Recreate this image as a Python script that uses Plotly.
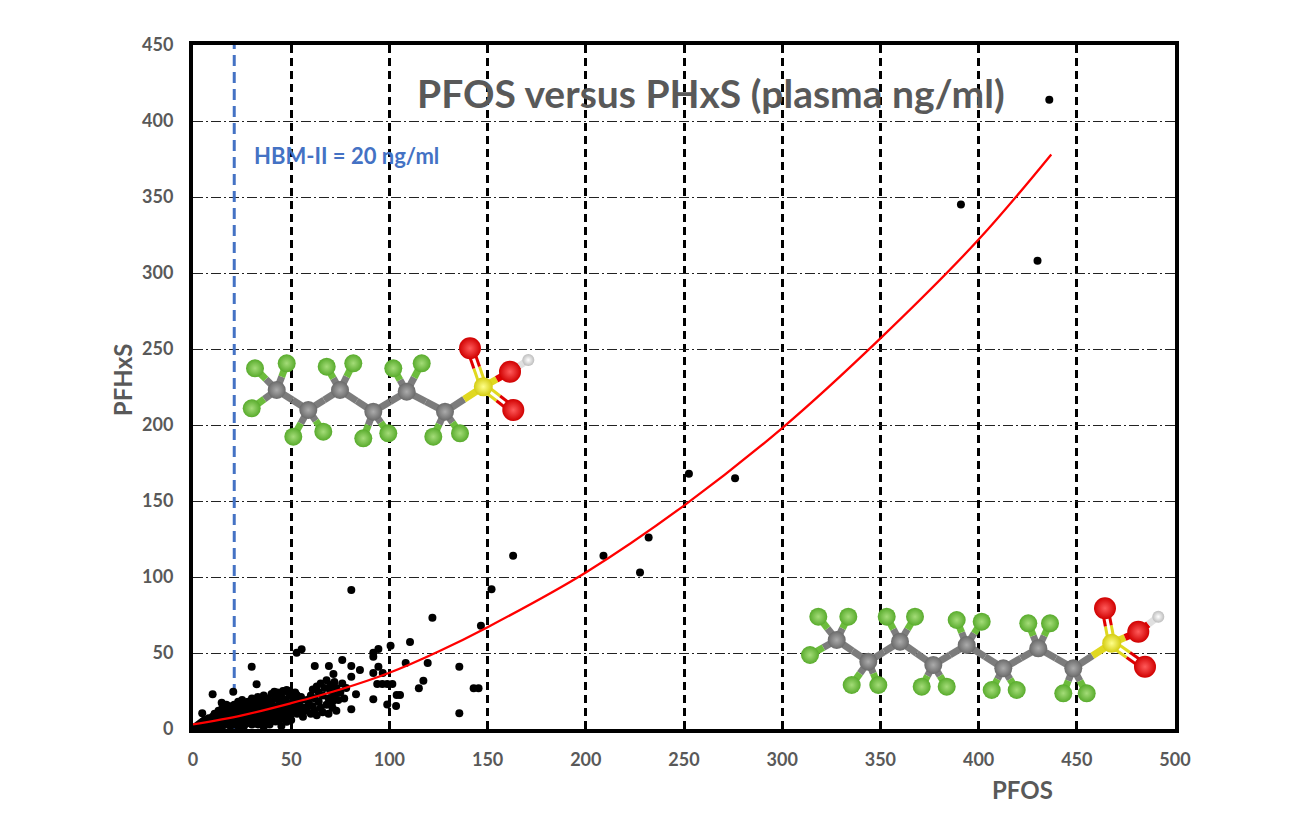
import plotly.graph_objects as go

# ---- data -----------------------------------------------------------------
pfos = [
    436, 391, 430, 276, 252.5, 232, 227.6, 209, 163, 152, 146.6, 80.6, 121.9,
    135.6, 135.6, 142.9, 145.4, 110.5, 119.5, 108.3, 117.3, 115, 105.4, 103.7,
    100.6, 94.4, 91.8, 91.8, 94.4, 91.8, 96.6, 93.8, 96.4, 98.9, 101.5, 91.8,
    98.9, 103.4, 83, 80.6, 85, 80.6, 80.6, 76, 71.5, 69.2, 62, 52.8, 55.3,
    4.7, 10, 20.5, 29.9, 32.4, 41.4, 14.6, 45.8, 48.4, 52.8, 49.4, 45.8, 52.8,
    55.3, 47.7,
    # dense cluster
    1, 2, 2, 3, 3, 4, 4, 5, 5, 5, 6, 6, 6, 7, 7, 7, 8, 8, 8, 9, 9, 10, 10, 10,
    11, 11, 11, 12, 12, 13, 13, 13, 14, 14, 15, 15, 15, 16, 16, 17, 17, 17,
    18, 18, 19, 19, 19, 20, 20, 20,
    21, 21, 21, 21, 22, 22, 22, 23, 23, 23, 24, 24, 24, 25, 25, 25, 25, 26,
    26, 26, 27, 27, 27, 28, 28, 28, 29, 29, 29, 30, 30, 30,
    31, 31, 31, 32, 32, 32, 33, 33, 33, 34, 34, 34, 35, 35, 35, 35, 36, 36,
    36, 37, 37, 37, 38, 38, 38, 39, 39, 39, 40, 40, 40, 40,
    41, 41, 42, 42, 42, 43, 43, 43, 44, 44, 45, 45, 45, 46, 46, 47, 47, 47,
    48, 48, 49, 49, 50, 50, 51, 51, 52, 52, 53, 53, 54, 55, 55, 47.7, 45, 36,
    56, 57, 58, 58, 59, 60, 60, 61, 61, 62, 62, 63, 63, 64, 64, 65, 65, 66,
    66, 67, 68, 68, 69, 69, 70, 70, 71, 71, 72, 72, 73, 73, 74, 75, 76, 77, 78,
]
pfhxs = [
    414, 345, 308, 165, 168, 126, 103, 114, 114, 92, 68, 91.4, 73.2,
    41, 10.3, 26.8, 26.8, 57.2, 43.4, 43.4, 31.8, 26.8, 22.4, 22.4,
    54.8, 52.6, 50.2, 47.6, 41, 36.8, 36.8, 29.6, 29.6, 29.6, 29.6, 19.5,
    16.2, 15.1, 22.8, 13, 38.8, 41.4, 34.4, 45.4, 36.2, 41.4, 41.4, 50.2, 52.4,
    10.3, 22.8, 24.5, 41, 29.4, 24.5, 17.3, 25, 25, 22.4, 8, 10.5, 17,
    19, 25.7,
    1, 2, 0.5, 3, 1, 2, 4, 1, 3, 5, 2, 4, 6, 1, 3, 5, 2, 4, 7, 3, 6, 1, 4, 8,
    2, 6, 10, 3, 8, 1, 5, 12, 4, 9, 2, 7, 14, 5, 11, 3, 8, 16,
    6, 12, 2, 10, 15, 4, 8, 13,
    3, 7, 11, 16, 5, 9, 14, 2, 12, 18, 6, 10, 15, 4, 8, 13, 19, 2,
    11, 16, 6, 9, 14, 4, 12, 18, 7, 10, 16, 3, 13, 20,
    5, 9, 15, 7, 12, 18, 3, 10, 21, 6, 14, 17, 4, 9, 12, 19, 7, 15,
    22, 5, 11, 17, 8, 13, 20, 3, 10, 16, 6, 12, 18, 23,
    8, 15, 5, 11, 20, 9, 14, 24, 6, 17, 10, 13, 21, 7, 16, 12, 19, 25,
    9, 14, 17, 22, 11, 6, 15, 20, 13, 24, 10, 18, 16, 12, 21, 4.8, 2, 1.5,
    8, 14, 12, 19, 17, 10, 22, 15, 26, 12, 20, 9, 28, 18, 24, 14, 30, 11,
    22, 27, 16, 32, 10, 20, 25, 29, 14, 18, 22, 31, 12, 27, 19, 24, 30, 20, 27,
]

fit_x = [0, 25, 50, 75, 100, 125, 150, 200, 250, 300, 350, 400, 437]
fit_y = [3, 9, 17, 26, 37, 51, 67, 103, 147, 198, 257, 322, 378]

hbm_limit = 21
x_ticks = [0, 50, 100, 150, 200, 250, 300, 350, 400, 450, 500]
y_ticks = [0, 50, 100, 150, 200, 250, 300, 350, 400, 450]

# ---- molecule sketches (pixel units of the plot area) ----------------------
pfhxs_atoms = [
    ("C", 276.7, 390), ("C", 308.3, 410), ("C", 340, 390), ("C", 373.3, 411.7),
    ("C", 406.7, 391.7), ("C", 445, 411.7), ("S", 483.3, 386.7),
    ("O", 470, 348.3), ("O", 513.3, 410), ("O", 510, 371.7), ("H", 528.3, 360),
    ("F", 255, 368.3), ("F", 286.7, 363.3), ("F", 251.7, 408.3),
    ("F", 293.3, 436.7), ("F", 323.3, 431.7), ("F", 326.7, 366.7),
    ("F", 353.3, 363.3), ("F", 363.3, 438.3), ("F", 388.3, 433.3),
    ("F", 393.3, 368.3), ("F", 421.7, 363.3), ("F", 433.3, 436.7),
    ("F", 460, 433.3),
]
pfhxs_bonds = [
    (0, 1, 1), (1, 2, 1), (2, 3, 1), (3, 4, 1), (4, 5, 1), (5, 6, 1),
    (6, 7, 2), (6, 8, 2), (6, 9, 1), (9, 10, 1),
    (0, 11, 1), (0, 12, 1), (0, 13, 1), (1, 14, 1), (1, 15, 1), (2, 16, 1),
    (2, 17, 1), (3, 18, 1), (3, 19, 1), (4, 20, 1), (4, 21, 1), (5, 22, 1),
    (5, 23, 1),
]
pfos_atoms = [
    ("C", 836.7, 640), ("C", 868.3, 661.7), ("C", 900, 641.7), ("C", 933.3, 665),
    ("C", 966.7, 645), ("C", 1003.3, 668.3), ("C", 1038.3, 648.3),
    ("C", 1073.3, 668.3), ("S", 1111.7, 643.3),
    ("O", 1105, 608.3), ("O", 1145, 666.7), ("O", 1138.3, 631.7),
    ("H", 1158.3, 616.7),
    ("F", 818.3, 616.7), ("F", 848.3, 616.7), ("F", 810, 655),
    ("F", 851.7, 685), ("F", 878.3, 685), ("F", 886.7, 616.7), ("F", 915, 616.7),
    ("F", 921.7, 686.7), ("F", 946.7, 686.7), ("F", 956.7, 620),
    ("F", 981.7, 621.7), ("F", 991.7, 690), ("F", 1016.7, 690),
    ("F", 1028.3, 623.3), ("F", 1050, 623.3), ("F", 1063.3, 693.3),
    ("F", 1086.7, 693.3),
]
pfos_bonds = [
    (0, 1, 1), (1, 2, 1), (2, 3, 1), (3, 4, 1), (4, 5, 1), (5, 6, 1), (6, 7, 1),
    (7, 8, 1), (8, 9, 2), (8, 10, 2), (8, 11, 1), (11, 12, 1),
    (0, 13, 1), (0, 14, 1), (0, 15, 1), (1, 16, 1), (1, 17, 1), (2, 18, 1),
    (2, 19, 1), (3, 20, 1), (3, 21, 1), (4, 22, 1), (4, 23, 1), (5, 24, 1),
    (5, 25, 1), (6, 26, 1), (6, 27, 1), (7, 28, 1), (7, 29, 1),
]

# element: (edge colour, highlight colour, size)
elements = {
    "F": ("#58ab2c", "#a4dc78", 18),
    "C": ("#6a6a6a", "#ababab", 18),
    "S": ("#d4cc10", "#ffff8a", 19),
    "O": ("#d00000", "#ff5a5a", 22),
    "H": ("#bdbdbd", "#ffffff", 12),
}
bond_colors = {"F": "#6cbc3c", "C": "#7c7c7c", "S": "#e0d820", "O": "#e00000", "H": "#e0e0e0"}

grey = "#595959"
font_family = "Lato, 'Open Sans', sans-serif"

fig = go.Figure()

# HBM-II limit line
fig.add_trace(go.Scatter(
    x=[hbm_limit, hbm_limit], y=[0, 450], mode="lines",
    line=dict(color="#4472C4", width=3, dash="11px,6px"),
    hoverinfo="skip", showlegend=False,
))

fig.add_trace(go.Scatter(
    x=pfos, y=pfhxs, mode="markers",
    marker=dict(color="black", size=8),
    name="plasma", showlegend=False,
))

fig.add_trace(go.Scatter(
    x=fit_x, y=fit_y, mode="lines",
    line=dict(color="#FF0000", width=2.3, shape="spline"),
    hoverinfo="skip", showlegend=False,
))


def add_molecule(atoms, bonds):
    # sticks, split at the midpoint so each half takes its atom's colour
    segs = {}
    for a, b, order in bonds:
        ea, xa, ya = atoms[a]
        eb, xb, yb = atoms[b]
        mx, my = (xa + xb) / 2, (ya + yb) / 2
        if order == 1:
            offsets = [(0, 0)]
            w = 7
        else:
            dx, dy = xb - xa, yb - ya
            ln = (dx * dx + dy * dy) ** 0.5
            nx, ny = -dy / ln * 3, dx / ln * 3
            offsets = [(nx, ny), (-nx, -ny)]
            w = 3
        for ox, oy in offsets:
            for el, (x0, y0), (x1, y1) in [(ea, (xa, ya), (mx, my)), (eb, (mx, my), (xb, yb))]:
                key = (el, w)
                segs.setdefault(key, ([], []))
                segs[key][0].extend([x0 + ox, x1 + ox, None])
                segs[key][1].extend([y0 + oy, y1 + oy, None])
    for (el, w), (xs, ys) in segs.items():
        fig.add_trace(go.Scatter(
            x=xs, y=ys, mode="lines", xaxis="x2", yaxis="y2",
            line=dict(color=bond_colors[el], width=w),
            hoverinfo="skip", showlegend=False,
        ))
    for el in ["F", "C", "S", "O", "H"]:
        pts = [(x, y) for e, x, y in atoms if e == el]
        if not pts:
            continue
        edge, hi, size = elements[el]
        fig.add_trace(go.Scatter(
            x=[p[0] for p in pts], y=[p[1] for p in pts], mode="markers",
            xaxis="x2", yaxis="y2",
            marker=dict(color=edge, size=size, line=dict(width=0),
                        gradient=dict(type="radial", color=hi)),
            hoverinfo="skip", showlegend=False,
        ))


add_molecule(pfhxs_atoms, pfhxs_bonds)
add_molecule(pfos_atoms, pfos_bonds)

axis_font = dict(family=font_family, size=18, color=grey, weight="bold")

# the page body adds an 8px offset, so the figure is a little smaller
fig.update_layout(
    width=1292, height=827,
    paper_bgcolor="white", plot_bgcolor="white",
    margin=dict(l=185, r=125, t=37, b=106),
    font=dict(family=font_family, color=grey),
    xaxis=dict(
        range=[0, 500], tickvals=x_ticks, ticks="", tickfont=axis_font,
        showgrid=True, gridcolor="black", gridwidth=2.5, griddash="8px,5px",
        zeroline=False, showline=True, linecolor="black", linewidth=4, mirror=True,
        ticklabelstandoff=11,
    ),
    yaxis=dict(
        range=[0, 450], tickvals=y_ticks, ticks="", tickfont=axis_font,
        showgrid=True, gridcolor="#222222", gridwidth=1.2, griddash="10px,3px,2px,3px",
        zeroline=False, showline=True, linecolor="black", linewidth=4, mirror=True,
        ticklabelstandoff=12,
    ),
    xaxis2=dict(overlaying="x", range=[193, 1175], visible=False),
    yaxis2=dict(overlaying="y", range=[729, 45], visible=False),
    annotations=[
        dict(text="PFOS versus PHxS (plasma ng/ml)", xref="paper", yref="paper",
             x=0.5275, y=0.93, showarrow=False, xanchor="center", yanchor="middle",
             font=dict(family=font_family, size=39, color=grey, weight="bold")),
        dict(text="HBM-II = 20 ng/ml", xref="paper", yref="paper",
             x=0.060, y=0.839, showarrow=False, xanchor="left", yanchor="middle",
             font=dict(family=font_family, size=22, color="#4472C4", weight="bold")),
        dict(text="PFHxS", xref="paper", yref="paper", x=-0.0723, y=0.51,
             showarrow=False, textangle=-90, xanchor="center", yanchor="middle",
             font=dict(family=font_family, size=24, color=grey, weight="bold")),
        dict(text="PFOS", xref="paper", yref="paper", x=0.845, y=-0.089,
             showarrow=False, xanchor="center", yanchor="middle",
             font=dict(family=font_family, size=24, color=grey, weight="bold")),
    ],
)

fig.write_html("out.html")
